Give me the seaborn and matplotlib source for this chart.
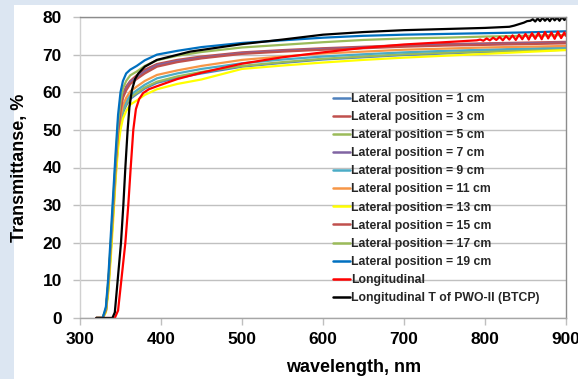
import matplotlib
matplotlib.use("Agg")
import matplotlib.pyplot as plt
from matplotlib.patches import Rectangle
from matplotlib.lines import Line2D
import seaborn as sns
import pandas as pd

# ---------------- data ----------------
wl_lat = [320, 328, 332, 335, 338, 341, 344, 347, 350, 353, 357, 362, 370, 380,
          395, 420, 450, 500, 550, 600, 650, 700, 750, 800, 850, 900]

lat_1 = [0, 0, 2, 8, 18, 28, 38, 46.5, 51.5, 54.5, 56.5, 58.2, 59.5, 61.0,
         62.5, 63.8, 65.0, 66.8, 67.8, 68.7, 69.3, 69.9, 70.3, 70.7, 71.0, 71.3]
lat_3 = [0, 0, 2, 9, 19, 30, 41, 50, 56, 59.5, 61.5, 63, 64.5, 66.0,
         67.5, 68.6, 69.5, 70.6, 71.2, 71.7, 72.1, 72.5, 72.8, 73.0, 73.2, 73.4]
lat_5 = [0, 0, 2, 8, 18, 28, 39, 47, 52, 55, 57, 58.6, 59.8, 61.3,
         62.8, 64.2, 65.4, 67.0, 68.0, 68.9, 69.5, 70.1, 70.5, 70.9, 71.2, 71.5]
lat_7 = [0, 0, 2, 9, 19, 30, 41, 50, 56, 59, 61, 62.7, 64.0, 65.5,
         67.2, 68.3, 69.2, 70.4, 71.0, 71.5, 71.9, 72.3, 72.6, 72.8, 73.0, 73.2]
lat_9 = [0, 0, 2, 9, 18, 29, 39, 47.5, 52.5, 55.5, 57.5, 59.2, 60.5, 62.0,
         63.7, 65.0, 66.2, 67.7, 68.7, 69.5, 70.1, 70.6, 71.0, 71.3, 71.6, 71.9]
lat_11 = [0, 0, 2, 9, 18, 29, 40, 48, 53.5, 56.5, 58.5, 60.2, 61.5, 63.0,
          64.6, 65.8, 67.0, 68.6, 69.5, 70.3, 70.8, 71.3, 71.6, 71.9, 72.1, 72.3]
lat_13 = [0, 0, 1.5, 7, 16, 26, 37, 45, 50, 53, 55, 56.7, 57.8, 59.3,
          60.8, 62.2, 63.4, 66.2, 67.1, 67.9, 68.6, 69.2, 69.7, 70.2, 70.7, 71.2]
lat_15 = [0, 0, 2, 9, 19, 29, 40, 49, 55, 58.5, 60.5, 62.2, 63.5, 65.0,
          66.8, 68.0, 69.0, 70.2, 70.8, 71.3, 71.7, 72.1, 72.4, 72.6, 72.8, 73.0]
lat_17 = [0, 0, 2.5, 10, 20, 31, 42, 52, 57.5, 61, 63, 64.5, 65.5, 67.0,
          68.5, 69.7, 70.7, 71.9, 72.6, 73.3, 73.9, 74.3, 74.5, 74.8, 75.0, 75.2]
lat_19 = [0, 0, 3, 11, 22, 33, 44, 54, 60, 63, 65, 66, 67.0, 68.5,
          70.0, 71.0, 72.0, 73.1, 73.8, 74.5, 75.0, 75.3, 75.5, 75.7, 75.9, 76.2]

wl_long = [320, 343, 347, 351, 356, 359.6, 362.6, 365.8, 369, 373, 378, 385, 395, 420,
           450, 500, 550, 600, 650, 700, 750, 790,
           794, 798, 802, 806, 810, 814, 818, 822, 826, 830, 834, 838, 842, 846,
           850, 854, 858, 862, 866, 870, 874, 878, 882, 886, 890, 894, 898, 900]
t_long = [0, 0, 2, 10, 20, 30, 40, 50, 55.5, 58.2, 59.8, 60.8, 61.6, 63.5,
          65.2, 67.6, 69.3, 70.6, 71.8, 72.7, 73.3, 73.8,
          74.0, 73.7, 74.3, 73.8, 74.5, 73.9, 74.7, 73.8, 74.9, 74.0, 75.1, 73.9, 75.3, 74.1,
          75.5, 74.0, 75.7, 74.2, 75.8, 74.1, 76.0, 74.3, 75.9, 74.2, 76.1, 74.4, 75.9, 75.0]

wl_btcp = [320, 340, 343, 346.5, 350.6, 353.5, 356, 358.8, 361, 364, 368, 372, 380, 395, 436,
           500, 550, 600, 650, 700, 750, 800, 830, 836, 842, 848, 852, 856,
           859, 862, 865, 868, 871, 874, 877, 880, 883, 886, 889, 892, 895, 898, 900]
t_btcp = [0, 0, 1.5, 10, 20, 30, 40, 50, 56, 60.5, 63.5, 65, 66.8, 68.6, 70.8,
          72.8, 74.0, 75.3, 76.0, 76.5, 76.8, 77.1, 77.4, 77.7, 78.1, 78.5, 78.9, 79.0,
          79.4, 78.8, 79.6, 78.9, 79.8, 79.0, 79.7, 78.9, 79.9, 79.1, 79.8, 79.0, 80.0, 79.2, 79.6]

labels = ["Lateral position = 1 cm", "Lateral position = 3 cm",
          "Lateral position = 5 cm", "Lateral position = 7 cm",
          "Lateral position = 9 cm", "Lateral position = 11 cm",
          "Lateral position = 13 cm", "Lateral position = 15 cm",
          "Lateral position = 17 cm", "Lateral position = 19 cm",
          "Longitudinal", "Longitudinal T of PWO-II (BTCP)"]
colors = ["#4F81BD", "#C0504D", "#9BBB59", "#8064A2", "#4BACC6", "#F79646",
          "#FFFF00", "#C0504D", "#9BBB59", "#0070C0", "#FF0000", "#000000"]

xticks = [300, 400, 500, 600, 700, 800, 900]
yticks = [0, 10, 20, 30, 40, 50, 60, 70, 80]

# ---------------- build long table ----------------
series = [(labels[0], wl_lat, lat_1), (labels[1], wl_lat, lat_3),
          (labels[2], wl_lat, lat_5), (labels[3], wl_lat, lat_7),
          (labels[4], wl_lat, lat_9), (labels[5], wl_lat, lat_11),
          (labels[6], wl_lat, lat_13), (labels[7], wl_lat, lat_15),
          (labels[8], wl_lat, lat_17), (labels[9], wl_lat, lat_19),
          (labels[10], wl_long, t_long), (labels[11], wl_btcp, t_btcp)]
df = pd.concat([pd.DataFrame({"wavelength": w, "T": v, "series": n})
                for n, w, v in series], ignore_index=True)

# ---------------- plot ----------------
sns.set_theme(style="white")
plt.rcParams["font.family"] = ["Liberation Sans", "DejaVu Sans"]
plt.rcParams["font.weight"] = "bold"

fig = plt.figure(figsize=(5.78, 3.79), dpi=100)
fig.patch.set_facecolor("white")
fig.patches.append(Rectangle((0, 0), 14 / 578, 1, transform=fig.transFigure,
                             facecolor="#DCE6F2", edgecolor="none", zorder=-10))
fig.patches.append(Rectangle((0, 1 - 5 / 379), 1, 5 / 379, transform=fig.transFigure,
                             facecolor="#DCE6F2", edgecolor="none", zorder=-10))

ax = fig.add_axes([80 / 578, 1 - 318 / 379, 486 / 578, 301 / 379])
sns.lineplot(data=df, x="wavelength", y="T", hue="series", hue_order=labels,
             palette=dict(zip(labels, colors)), estimator=None, sort=False,
             linewidth=1.6, legend=False, ax=ax)

ax.set_xlim(300, 900)
ax.set_ylim(0, 80)
ax.set_xticks(xticks)
ax.set_yticks(yticks)
ax.yaxis.grid(True, color="#C0C0C0", linewidth=1)
ax.xaxis.grid(False)
ax.set_axisbelow(True)

for side, col in [("left", "#D0D0D0"), ("bottom", "#A6A6A6"),
                  ("right", "#8C8C8C"), ("top", "#8C8C8C")]:
    ax.spines[side].set_visible(True)
    ax.spines[side].set_color(col)
    ax.spines[side].set_linewidth(1)

ax.tick_params(axis="both", direction="out", length=5, width=1, color="#BFBFBF",
               labelsize=12.5, labelcolor="black")
ax.tick_params(axis="y", pad=8)
ax.tick_params(axis="x", pad=5)
ax.tick_params(bottom=True, left=True)

ax.set_xlabel("wavelength, nm", fontsize=13, fontweight="bold", color="black")
ax.set_ylabel("Transmittanse, %", fontsize=13, fontweight="bold", color="black")
ax.xaxis.set_label_coords(0.562, -0.135)
ax.yaxis.set_label_coords(-0.107, 0.5)

handles = [Line2D([], [], color=c, linewidth=1.8) for c in colors]
ax.legend(handles, labels, loc="center left", bbox_to_anchor=(0.5206, 0.397),
          frameon=False, prop={"weight": "bold", "size": 8.8},
          labelspacing=0.5, handlelength=1.4, handletextpad=0.1,
          borderpad=0, borderaxespad=0)

fig.savefig("out.png", dpi=100)
